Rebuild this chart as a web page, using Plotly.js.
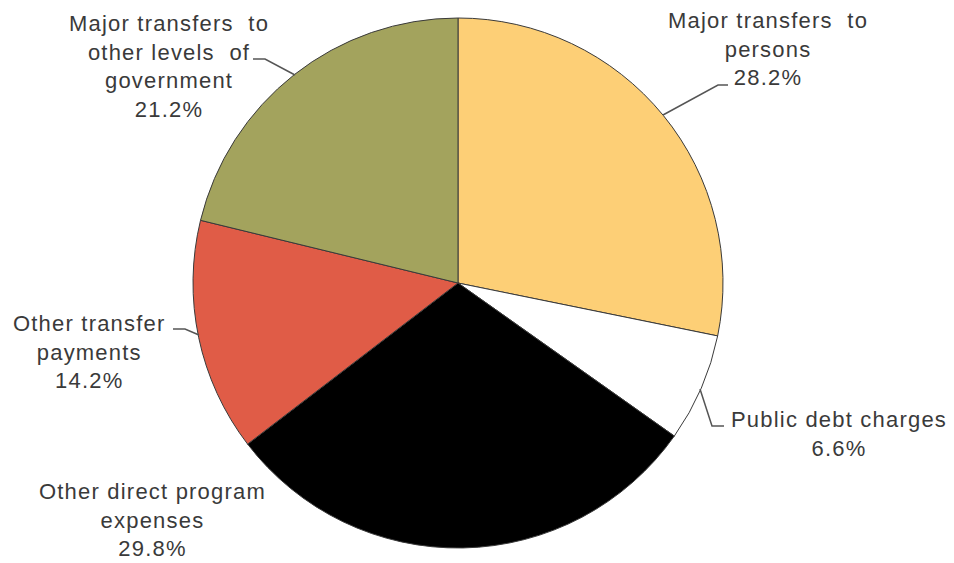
<!DOCTYPE html>
<html>
<head>
<meta charset="utf-8">
<script src="https://cdn.plot.ly/plotly-3.0.1.min.js"></script>
<style>html,body{margin:0;padding:0;background:#fff;}#chart{width:954px;height:563px;}
.annotation-text{letter-spacing:1.2px;}</style>
</head>
<body>
<div id="chart"></div>
<script>
// Data
const categories = [
  "Major transfers to persons",
  "Public debt charges",
  "Other direct program expenses",
  "Other transfer payments",
  "Major transfers to other levels of government"
];
const shares = [28.2, 6.6, 29.8, 14.2, 21.2];
const labelText = [
  "Major transfers  to<br>persons",
  "Public debt charges",
  "Other direct program<br>expenses",
  "Other transfer<br>payments",
  "Major transfers  to<br>other levels  of<br>government"
];
const colors = ["#FDCF76", "#FFFFFF", "#000000", "#E05C47", "#A3A35D"];

// Layout helpers (pixel -> paper)
const W = 954, H = 563;
const px = x => x / W;
const py = y => 1 - y / H;
const cx = 458, cy = 283, R = 265;

// Label placement (style/positions)
const labelPos = [
  {x: 768, y: 49},
  {x: 839, y: 434},
  {x: 152, y: 520},
  {x: 89,  y: 352},
  {x: 169, y: 66}
];
const leaders = [
  [[663,115],[718,85],[728,85]],
  [[700,389],[712,426],[724,426]],
  null,
  [[199,335],[185,329],[173,329]],
  [[295,75],[265,59],[253,59]]
];

const annotations = categories.map((c, i) => ({
  xref: 'paper', yref: 'paper',
  x: px(labelPos[i].x), y: py(labelPos[i].y),
  xanchor: 'center', yanchor: 'middle',
  text: labelText[i] + '<br>' + shares[i].toFixed(1) + '%',
  showarrow: false,
  align: 'center',
  font: {family: 'Liberation Sans, Arial, sans-serif', size: 22, color: '#3a3a3a'}
}));

const shapes = leaders.filter(l => l).map(l => ({
  type: 'path', xref: 'paper', yref: 'paper',
  path: 'M ' + l.map(p => px(p[0]) + ',' + py(p[1])).join(' L '),
  line: {color: '#555555', width: 1.5}
}));

const trace = {
  type: 'pie',
  labels: categories,
  values: shares,
  sort: false,
  direction: 'clockwise',
  rotation: 0,
  textinfo: 'none',
  hoverinfo: 'label+percent',
  marker: {colors: colors, line: {color: '#3a3a3a', width: 1}},
  domain: {x: [px(cx - R), px(cx + R)], y: [py(cy + R), py(cy - R)]}
};

const layout = {
  width: W, height: H,
  margin: {l: 0, r: 0, t: 0, b: 0},
  showlegend: false,
  paper_bgcolor: '#ffffff',
  annotations: annotations,
  shapes: shapes
};

Plotly.newPlot('chart', [trace], layout, {displayModeBar: false, staticPlot: true});
</script>
</body>
</html>
